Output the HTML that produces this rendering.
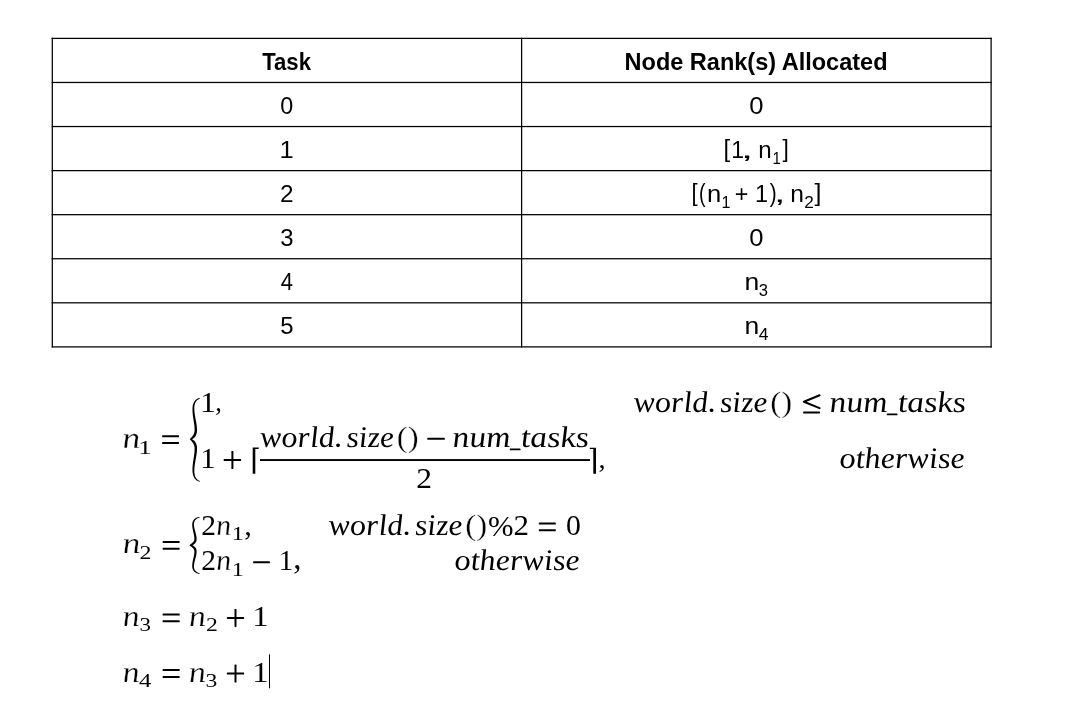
<!DOCTYPE html>
<html><head><meta charset="utf-8"><title>Task allocation</title><style>html,body{margin:0;padding:0;background:#fff;overflow:hidden;}svg{display:block;will-change:transform;}.S{font-family:'Liberation Sans',sans-serif;}.R{font-family:'Liberation Serif',serif;}text{fill:#000;}</style></head><body>
<svg width="1087" height="713" viewBox="0 0 1087 713">
<rect x="51.67" y="37.77" width="940.05" height="1.25" fill="#000"/>
<rect x="51.67" y="81.84" width="940.05" height="1.25" fill="#000"/>
<rect x="51.67" y="125.91" width="940.05" height="1.25" fill="#000"/>
<rect x="51.67" y="169.99" width="940.05" height="1.25" fill="#000"/>
<rect x="51.67" y="214.06" width="940.05" height="1.25" fill="#000"/>
<rect x="51.67" y="258.12" width="940.05" height="1.25" fill="#000"/>
<rect x="51.67" y="302.19" width="940.05" height="1.25" fill="#000"/>
<rect x="51.67" y="346.26" width="940.05" height="1.25" fill="#000"/>
<rect x="51.67" y="37.77" width="1.25" height="309.74" fill="#000"/>
<rect x="520.98" y="37.77" width="1.25" height="309.74" fill="#000"/>
<rect x="990.48" y="37.77" width="1.25" height="309.74" fill="#000"/>
<text class="S" transform="translate(262.17 70.00) scale(0.9042 1.0000)" font-size="24.5" font-weight="bold">Task</text>
<text class="S" transform="translate(624.56 70.00) scale(0.9598 1.0000)" font-size="24.5" font-weight="bold">Node Rank(s) Allocated</text>
<text class="S" transform="translate(280.35 113.60) scale(0.9532 1.0000)" font-size="24.5">0</text>
<text class="S" transform="translate(279.48 157.65) scale(1.0419 1.0000)" font-size="24.5">1</text>
<text class="S" transform="translate(280.06 201.70) scale(0.9956 1.0000)" font-size="24.5">2</text>
<text class="S" transform="translate(280.33 245.75) scale(0.9739 1.0000)" font-size="24.5">3</text>
<text class="S" transform="translate(280.85 289.80) scale(0.8960 1.0000)" font-size="24.5">4</text>
<text class="S" transform="translate(280.33 333.85) scale(0.9739 1.0000)" font-size="24.5">5</text>
<text class="S" transform="translate(749.15 113.60) scale(1.0468 1.0000)" font-size="24.5">0</text>
<text class="S" transform="translate(723.38 157.06) scale(0.9800 0.9670)" font-size="24.5">[</text>
<text class="S" transform="translate(731.36 157.80) scale(0.9395 1.0000)" font-size="24.5">1</text>
<text class="S" transform="translate(740.86 157.80) scale(1.8400 1.0000)" font-size="24.5">,</text>
<text class="S" transform="translate(758.28 157.80) scale(0.9854 1.0000)" font-size="24.5">n</text>
<text class="S" transform="translate(772.56 163.90) scale(0.9103 1.0000)" font-size="16.5">1</text>
<text class="S" transform="translate(782.57 157.05) scale(0.9263 0.9495)" font-size="24.5">]</text>
<text class="S" transform="translate(691.62 201.19) scale(0.9000 0.9626)" font-size="24.5">[</text>
<text class="S" transform="translate(699.00 201.54) scale(0.8000 1.0330)" font-size="24.5">(</text>
<text class="S" transform="translate(707.07 201.80) scale(1.0439 1.0000)" font-size="24.5">n</text>
<text class="S" transform="translate(721.58 207.90) scale(0.9793 1.0000)" font-size="16.5">1</text>
<text class="S" transform="translate(734.81 201.79) scale(0.9532 0.9469)" font-size="24.5">+</text>
<text class="S" transform="translate(755.12 201.80) scale(0.9581 1.0000)" font-size="24.5">1</text>
<text class="S" transform="translate(769.79 201.54) scale(0.8462 1.0330)" font-size="24.5">)</text>
<text class="S" transform="translate(774.02 201.80) scale(1.6800 1.0000)" font-size="24.5">,</text>
<text class="S" transform="translate(790.14 201.80) scale(1.0049 1.0000)" font-size="24.5">n</text>
<text class="S" transform="translate(804.32 207.90) scale(1.0400 1.0000)" font-size="16.5">2</text>
<text class="S" transform="translate(814.55 201.19) scale(1.0105 0.9626)" font-size="24.5">]</text>
<text class="S" transform="translate(749.15 245.75) scale(1.0468 1.0000)" font-size="24.5">0</text>
<text class="S" transform="translate(744.40 290.00) scale(1.0829 1.0000)" font-size="24.5">n</text>
<text class="S" transform="translate(758.75 295.80) scale(1.0065 1.0000)" font-size="16.5">3</text>
<text class="S" transform="translate(744.40 333.80) scale(1.0829 1.0000)" font-size="24.5">n</text>
<text class="S" transform="translate(758.64 339.90) scale(1.0588 1.0000)" font-size="16.5">4</text>
<text class="R" transform="translate(122.69 448.00) scale(1.2154 1.0000) skewX(4)" font-size="30" stroke="#fff" stroke-width="0.25"><tspan font-style="italic">n</tspan></text>
<text class="R" transform="translate(138.19 453.70) scale(1.3778 1.0000)" font-size="19.5">1</text>
<text class="R" transform="translate(199.95 411.60) scale(1.0605 1.0000)" font-size="30">1</text>
<text class="R" transform="translate(215.22 410.68) scale(0.8842 0.8933)" font-size="30">,</text>
<text class="R" transform="translate(200.24 468.10) scale(1.0233 1.0000)" font-size="30">1</text>
<text class="R" transform="translate(260.77 446.70) scale(1.0647 1.0000) skewX(4)" font-size="30"><tspan font-style="italic">world</tspan></text>
<text class="R" transform="translate(333.93 446.70) scale(1.0857 1.0000)" font-size="30">.</text>
<text class="R" transform="translate(347.04 446.70) scale(1.0566 1.0000) skewX(4)" font-size="30"><tspan font-style="italic">size</tspan></text>
<text class="R" transform="translate(396.73 446.95) scale(1.0971 1.0000)" font-size="30" stroke="#fff" stroke-width="0.3">()</text>
<text class="R" transform="translate(453.06 446.70) scale(1.1232 1.0000) skewX(4)" font-size="30"><tspan font-style="italic">num</tspan></text>
<text class="R" transform="translate(521.43 446.70) scale(1.1325 1.0000) skewX(4)" font-size="30"><tspan font-style="italic">tasks</tspan></text>
<text class="R" transform="translate(416.29 487.50) scale(1.0500 1.0000)" font-size="30">2</text>
<text class="R" transform="translate(598.45 467.56) scale(0.9474 0.9200)" font-size="30">,</text>
<text class="R" transform="translate(634.27 411.70) scale(1.0647 1.0000) skewX(4)" font-size="30"><tspan font-style="italic">world</tspan></text>
<text class="R" transform="translate(707.43 411.70) scale(1.0857 1.0000)" font-size="30">.</text>
<text class="R" transform="translate(720.54 411.70) scale(1.0566 1.0000) skewX(4)" font-size="30"><tspan font-style="italic">size</tspan></text>
<text class="R" transform="translate(770.23 411.95) scale(1.0971 1.0000)" font-size="30" stroke="#fff" stroke-width="0.3">()</text>
<text class="R" transform="translate(830.06 411.70) scale(1.1232 1.0000) skewX(4)" font-size="30"><tspan font-style="italic">num</tspan></text>
<text class="R" transform="translate(898.43 411.70) scale(1.1325 1.0000) skewX(4)" font-size="30"><tspan font-style="italic">tasks</tspan></text>
<text class="R" transform="translate(840.06 468.00) scale(1.0742 1.0000) skewX(4)" font-size="30"><tspan font-style="italic">otherwise</tspan></text>
<text class="R" transform="translate(122.89 553.20) scale(1.2077 1.0000) skewX(4)" font-size="30" stroke="#fff" stroke-width="0.25"><tspan font-style="italic">n</tspan></text>
<text class="R" transform="translate(139.58 558.80) scale(1.2250 1.0000)" font-size="19.5">2</text>
<text class="R" transform="translate(201.17 534.80) scale(0.9833 1.0000)" font-size="30">2</text>
<text class="R" transform="translate(216.43 534.80) scale(1.0231 1.0000) skewX(4)" font-size="30" stroke="#fff" stroke-width="0.25"><tspan font-style="italic">n</tspan></text>
<text class="R" transform="translate(231.72 540.40) scale(1.2444 1.0000)" font-size="19.5">1</text>
<text class="R" transform="translate(201.17 570.00) scale(0.9833 1.0000)" font-size="30">2</text>
<text class="R" transform="translate(216.43 570.00) scale(1.0231 1.0000) skewX(4)" font-size="30" stroke="#fff" stroke-width="0.25"><tspan font-style="italic">n</tspan></text>
<text class="R" transform="translate(231.72 575.60) scale(1.2444 1.0000)" font-size="19.5">1</text>
<text class="R" transform="translate(244.19 534.54) scale(1.0105 0.9467)" font-size="30">,</text>
<text class="R" transform="translate(278.80 570.00) scale(0.9581 1.0000)" font-size="30">1</text>
<text class="R" transform="translate(293.21 568.78) scale(1.0947 1.0933)" font-size="30">,</text>
<text class="R" transform="translate(329.27 534.80) scale(1.0647 1.0000) skewX(4)" font-size="30"><tspan font-style="italic">world</tspan></text>
<text class="R" transform="translate(402.43 534.80) scale(1.0857 1.0000)" font-size="30">.</text>
<text class="R" transform="translate(415.54 534.80) scale(1.0566 1.0000) skewX(4)" font-size="30"><tspan font-style="italic">size</tspan></text>
<text class="R" transform="translate(465.23 535.05) scale(1.0971 1.0000)" font-size="30" stroke="#fff" stroke-width="0.3">()</text>
<text class="R" transform="translate(488.08 535.71) scale(1.0217 0.9854)" font-size="30">%</text>
<text class="R" transform="translate(513.61 534.80) scale(1.0333 1.0000)" font-size="30">2</text>
<text class="R" transform="translate(565.91 534.80) scale(0.9923 1.0000)" font-size="30">0</text>
<text class="R" transform="translate(455.06 570.00) scale(1.0742 1.0000) skewX(4)" font-size="30"><tspan font-style="italic">otherwise</tspan></text>
<text class="R" transform="translate(122.93 626.00) scale(1.1538 1.0000) skewX(4)" font-size="30" stroke="#fff" stroke-width="0.25"><tspan font-style="italic">n</tspan></text>
<text class="R" transform="translate(139.62 631.30) scale(1.1750 1.0000)" font-size="19.5">3</text>
<text class="R" transform="translate(189.33 626.00) scale(1.1538 1.0000) skewX(4)" font-size="30" stroke="#fff" stroke-width="0.25"><tspan font-style="italic">n</tspan></text>
<text class="R" transform="translate(205.89 631.40) scale(1.2125 1.0000)" font-size="19.5">2</text>
<text class="R" transform="translate(252.18 626.00) scale(1.0884 1.0000)" font-size="30">1</text>
<text class="R" transform="translate(122.93 681.60) scale(1.1538 1.0000) skewX(4)" font-size="30" stroke="#fff" stroke-width="0.25"><tspan font-style="italic">n</tspan></text>
<text class="R" transform="translate(138.98 686.90) scale(1.2649 1.0000)" font-size="19.5">4</text>
<text class="R" transform="translate(189.33 681.60) scale(1.1538 1.0000) skewX(4)" font-size="30" stroke="#fff" stroke-width="0.25"><tspan font-style="italic">n</tspan></text>
<text class="R" transform="translate(205.59 687.00) scale(1.2125 1.0000)" font-size="19.5">3</text>
<text class="R" transform="translate(252.18 681.60) scale(1.0884 1.0000)" font-size="30">1</text>
<path d="M199.69 397.87 L199.19 397.99 L198.71 398.14 L198.23 398.32 L197.77 398.53 L197.32 398.76 L196.88 399.01 L196.46 399.29 L196.05 399.60 L195.66 399.94 L195.28 400.31 L194.93 400.71 L194.60 401.15 L194.28 401.61 L193.99 402.10 L193.72 402.63 L193.48 403.19 L193.26 403.78 L193.07 404.40 L192.90 405.06 L192.76 405.75 L192.65 406.47 L192.56 407.23 L192.50 408.03 L192.47 408.86 L192.47 409.85 L192.49 410.82 L192.53 411.78 L192.59 412.72 L192.67 413.65 L192.76 414.57 L192.87 415.47 L192.98 416.37 L193.11 417.25 L193.24 418.13 L193.38 419.00 L193.51 419.86 L193.65 420.72 L193.79 421.58 L193.92 422.43 L194.05 423.28 L194.16 424.13 L194.27 424.98 L194.37 425.83 L194.45 426.69 L194.51 427.55 L194.56 428.42 L194.59 429.29 L194.59 430.18 L194.57 430.73 L194.53 431.24 L194.47 431.74 L194.38 432.20 L194.28 432.65 L194.16 433.07 L194.02 433.47 L193.86 433.85 L193.69 434.22 L193.51 434.56 L193.32 434.90 L193.11 435.21 L192.89 435.52 L192.69 435.83 L192.48 436.14 L192.26 436.44 L192.03 436.74 L191.78 437.02 L191.53 437.30 L191.27 437.57 L191.01 437.83 L190.74 438.09 L190.46 438.33 L189.85 439.20 L190.46 440.07 L190.73 440.32 L191.00 440.58 L191.26 440.85 L191.52 441.12 L191.77 441.41 L192.01 441.70 L192.25 442.00 L192.47 442.31 L192.67 442.63 L192.88 442.96 L193.10 443.27 L193.31 443.60 L193.50 443.94 L193.69 444.30 L193.86 444.68 L194.01 445.07 L194.15 445.49 L194.28 445.93 L194.38 446.39 L194.47 446.87 L194.53 447.38 L194.57 447.92 L194.59 448.49 L194.59 449.40 L194.56 450.30 L194.51 451.19 L194.45 452.08 L194.37 452.97 L194.27 453.84 L194.16 454.72 L194.05 455.60 L193.92 456.47 L193.79 457.35 L193.65 458.23 L193.51 459.11 L193.38 460.00 L193.24 460.90 L193.11 461.80 L192.98 462.71 L192.87 463.63 L192.76 464.56 L192.67 465.50 L192.59 466.46 L192.53 467.43 L192.49 468.41 L192.47 469.41 L192.47 470.43 L192.50 471.28 L192.56 472.10 L192.65 472.88 L192.76 473.62 L192.90 474.33 L193.07 475.01 L193.26 475.65 L193.48 476.25 L193.72 476.83 L193.99 477.37 L194.28 477.87 L194.59 478.35 L194.92 478.79 L195.28 479.20 L195.65 479.59 L196.04 479.94 L196.45 480.26 L196.87 480.55 L197.31 480.81 L197.76 481.05 L198.23 481.26 L198.70 481.44 L199.19 481.60 L199.68 481.73 L199.92 481.07 L199.47 480.86 L199.05 480.65 L198.64 480.42 L198.25 480.18 L197.88 479.93 L197.52 479.65 L197.18 479.36 L196.86 479.05 L196.56 478.72 L196.27 478.37 L196.01 477.99 L195.76 477.59 L195.53 477.17 L195.32 476.72 L195.13 476.24 L194.95 475.73 L194.80 475.19 L194.66 474.62 L194.55 474.01 L194.46 473.37 L194.39 472.69 L194.35 471.98 L194.33 471.22 L194.33 470.43 L194.36 469.46 L194.41 468.50 L194.48 467.56 L194.57 466.63 L194.67 465.72 L194.79 464.81 L194.92 463.91 L195.06 463.02 L195.21 462.13 L195.37 461.24 L195.52 460.36 L195.69 459.48 L195.85 458.60 L196.01 457.72 L196.16 456.83 L196.31 455.94 L196.45 455.04 L196.58 454.13 L196.70 453.22 L196.80 452.30 L196.88 451.36 L196.95 450.42 L196.99 449.46 L197.01 448.48 L197.00 447.81 L196.96 447.16 L196.89 446.53 L196.80 445.92 L196.67 445.34 L196.52 444.78 L196.35 444.24 L196.16 443.73 L195.94 443.23 L195.70 442.76 L195.45 442.31 L195.18 441.88 L194.89 441.47 L194.56 441.11 L194.22 440.78 L193.87 440.46 L193.52 440.17 L193.16 439.89 L192.80 439.64 L192.44 439.40 L192.08 439.17 L191.73 438.96 L191.37 438.76 L191.35 439.20 L191.36 439.65 L191.72 439.46 L192.07 439.26 L192.43 439.04 L192.79 438.81 L193.15 438.56 L193.51 438.29 L193.86 438.01 L194.21 437.70 L194.55 437.38 L194.88 437.02 L195.17 436.63 L195.44 436.21 L195.70 435.77 L195.93 435.31 L196.15 434.83 L196.35 434.32 L196.52 433.80 L196.67 433.25 L196.80 432.68 L196.89 432.09 L196.96 431.47 L197.00 430.84 L197.01 430.18 L196.99 429.23 L196.95 428.30 L196.88 427.38 L196.80 426.47 L196.70 425.57 L196.58 424.68 L196.45 423.80 L196.31 422.93 L196.16 422.06 L196.01 421.20 L195.85 420.34 L195.69 419.48 L195.52 418.63 L195.37 417.77 L195.21 416.91 L195.06 416.05 L194.92 415.19 L194.79 414.31 L194.67 413.43 L194.57 412.54 L194.48 411.64 L194.41 410.73 L194.36 409.80 L194.33 408.86 L194.33 408.09 L194.35 407.36 L194.39 406.67 L194.46 406.01 L194.55 405.39 L194.66 404.80 L194.80 404.24 L194.95 403.72 L195.12 403.23 L195.31 402.76 L195.53 402.33 L195.75 401.92 L196.00 401.53 L196.27 401.17 L196.55 400.82 L196.85 400.50 L197.17 400.20 L197.51 399.91 L197.87 399.65 L198.24 399.40 L198.64 399.16 L199.04 398.94 L199.47 398.74 L199.91 398.53Z" fill="#000"/>
<path d="M199.52 516.86 L199.03 516.93 L198.56 517.03 L198.09 517.14 L197.63 517.27 L197.19 517.42 L196.76 517.58 L196.34 517.77 L195.93 517.97 L195.54 518.20 L195.16 518.45 L194.80 518.72 L194.46 519.01 L194.14 519.33 L193.83 519.67 L193.55 520.04 L193.30 520.44 L193.07 520.85 L192.86 521.30 L192.68 521.77 L192.54 522.26 L192.42 522.78 L192.32 523.32 L192.26 523.89 L192.23 524.48 L192.23 525.17 L192.25 525.85 L192.30 526.52 L192.36 527.18 L192.44 527.82 L192.54 528.46 L192.65 529.09 L192.77 529.71 L192.90 530.32 L193.04 530.93 L193.17 531.52 L193.31 532.12 L193.45 532.70 L193.59 533.29 L193.72 533.86 L193.85 534.44 L193.96 535.01 L194.07 535.59 L194.16 536.16 L194.24 536.73 L194.31 537.30 L194.35 537.88 L194.38 538.46 L194.39 539.04 L194.37 539.38 L194.33 539.69 L194.28 539.99 L194.20 540.27 L194.11 540.54 L194.00 540.79 L193.88 541.04 L193.74 541.28 L193.58 541.50 L193.41 541.72 L193.23 541.94 L193.03 542.14 L192.81 542.35 L192.61 542.56 L192.39 542.78 L192.16 543.00 L191.92 543.20 L191.66 543.41 L191.40 543.60 L191.13 543.80 L190.85 543.98 L190.57 544.17 L190.28 544.34 L189.55 545.20 L190.28 546.06 L190.56 546.24 L190.85 546.42 L191.12 546.61 L191.39 546.80 L191.66 547.00 L191.91 547.21 L192.15 547.42 L192.38 547.64 L192.60 547.86 L192.81 548.08 L193.02 548.28 L193.22 548.49 L193.41 548.71 L193.58 548.93 L193.73 549.17 L193.87 549.41 L194.00 549.66 L194.11 549.92 L194.20 550.19 L194.27 550.48 L194.33 550.78 L194.37 551.11 L194.39 551.45 L194.38 552.04 L194.35 552.63 L194.31 553.21 L194.24 553.80 L194.16 554.38 L194.07 554.96 L193.96 555.54 L193.85 556.12 L193.72 556.70 L193.59 557.29 L193.45 557.88 L193.31 558.48 L193.17 559.08 L193.03 559.68 L192.90 560.30 L192.77 560.92 L192.65 561.55 L192.54 562.18 L192.44 562.83 L192.36 563.48 L192.30 564.15 L192.25 564.83 L192.23 565.52 L192.23 566.22 L192.26 566.81 L192.32 567.39 L192.42 567.94 L192.53 568.46 L192.68 568.96 L192.86 569.44 L193.06 569.89 L193.30 570.31 L193.55 570.71 L193.83 571.08 L194.13 571.43 L194.46 571.75 L194.80 572.05 L195.16 572.33 L195.53 572.58 L195.93 572.81 L196.33 573.01 L196.75 573.20 L197.19 573.37 L197.63 573.52 L198.09 573.65 L198.55 573.77 L199.03 573.87 L199.52 573.94 L199.68 573.26 L199.23 573.11 L198.79 572.96 L198.37 572.79 L197.97 572.62 L197.58 572.44 L197.21 572.25 L196.86 572.04 L196.53 571.83 L196.21 571.60 L195.92 571.36 L195.65 571.10 L195.39 570.83 L195.16 570.55 L194.95 570.25 L194.76 569.94 L194.59 569.61 L194.43 569.26 L194.30 568.90 L194.19 568.51 L194.10 568.10 L194.03 567.67 L193.99 567.21 L193.96 566.73 L193.97 566.21 L193.99 565.58 L194.04 564.95 L194.11 564.33 L194.19 563.72 L194.29 563.12 L194.41 562.52 L194.54 561.93 L194.67 561.33 L194.82 560.74 L194.97 560.15 L195.13 559.56 L195.29 558.97 L195.45 558.38 L195.61 557.79 L195.76 557.18 L195.91 556.58 L196.05 555.97 L196.18 555.35 L196.30 554.72 L196.40 554.09 L196.49 553.44 L196.55 552.79 L196.59 552.12 L196.61 551.45 L196.60 550.96 L196.56 550.48 L196.48 550.02 L196.38 549.57 L196.24 549.14 L196.08 548.73 L195.89 548.34 L195.68 547.97 L195.45 547.61 L195.20 547.28 L194.93 546.96 L194.65 546.66 L194.36 546.38 L194.04 546.14 L193.70 545.92 L193.37 545.71 L193.02 545.53 L192.68 545.35 L192.33 545.19 L191.98 545.03 L191.64 544.89 L191.29 544.76 L190.95 544.63 L191.05 545.20 L190.95 545.77 L191.29 545.65 L191.63 545.52 L191.98 545.38 L192.33 545.23 L192.67 545.07 L193.02 544.89 L193.36 544.71 L193.70 544.51 L194.03 544.29 L194.35 544.05 L194.65 543.78 L194.93 543.48 L195.20 543.17 L195.45 542.84 L195.68 542.49 L195.89 542.12 L196.08 541.73 L196.24 541.32 L196.38 540.90 L196.48 540.46 L196.56 540.00 L196.60 539.53 L196.61 539.04 L196.59 538.37 L196.55 537.72 L196.49 537.07 L196.40 536.43 L196.30 535.81 L196.18 535.19 L196.05 534.58 L195.91 533.97 L195.76 533.38 L195.60 532.79 L195.45 532.20 L195.29 531.61 L195.13 531.03 L194.97 530.45 L194.82 529.87 L194.67 529.29 L194.54 528.71 L194.41 528.12 L194.29 527.53 L194.19 526.93 L194.11 526.33 L194.04 525.72 L193.99 525.11 L193.97 524.48 L193.96 523.98 L193.99 523.50 L194.03 523.05 L194.10 522.63 L194.19 522.22 L194.30 521.84 L194.43 521.48 L194.58 521.14 L194.76 520.82 L194.95 520.51 L195.16 520.22 L195.39 519.94 L195.64 519.67 L195.92 519.42 L196.21 519.18 L196.52 518.96 L196.86 518.74 L197.21 518.54 L197.58 518.35 L197.97 518.17 L198.37 518.00 L198.79 517.84 L199.23 517.69 L199.68 517.54Z" fill="#000"/>
<path d="M252.7 473.8 V447.6 H258.7 V448.9 H255.3 V473.8 Z" fill="#000"/>
<path d="M596.0 473.8 V447.8 H589.8 V449.0 H593.3 V473.8 Z" fill="#000"/>
<rect x="162.10" y="435.30" width="16.90" height="2.00" rx="0.6" fill="#000"/>
<rect x="162.10" y="442.10" width="16.90" height="2.00" rx="0.6" fill="#000"/>
<rect x="223.70" y="459.00" width="17.40" height="2.00" rx="0.6" fill="#000"/>
<rect x="231.40" y="451.00" width="2.00" height="18.00" rx="0.6" fill="#000"/>
<rect x="427.30" y="437.80" width="17.50" height="2.00" rx="0.6" fill="#000"/>
<rect x="509.80" y="448.50" width="10.70" height="1.80" rx="0.6" fill="#000"/>
<rect x="803.10" y="411.60" width="16.90" height="2.00" rx="0.6" fill="#000"/>
<rect x="886.80" y="413.50" width="10.70" height="1.80" rx="0.6" fill="#000"/>
<rect x="162.60" y="540.90" width="17.10" height="2.00" rx="0.6" fill="#000"/>
<rect x="162.60" y="547.70" width="17.10" height="2.00" rx="0.6" fill="#000"/>
<rect x="253.10" y="561.30" width="16.80" height="2.00" rx="0.6" fill="#000"/>
<rect x="538.80" y="522.50" width="17.00" height="2.00" rx="0.6" fill="#000"/>
<rect x="538.80" y="529.20" width="17.00" height="2.00" rx="0.6" fill="#000"/>
<rect x="162.60" y="613.50" width="17.10" height="2.00" rx="0.6" fill="#000"/>
<rect x="162.60" y="620.30" width="17.10" height="2.00" rx="0.6" fill="#000"/>
<rect x="226.85" y="616.90" width="17.30" height="2.00" rx="0.6" fill="#000"/>
<rect x="234.50" y="608.90" width="2.00" height="18.00" rx="0.6" fill="#000"/>
<rect x="162.60" y="669.10" width="17.10" height="2.00" rx="0.6" fill="#000"/>
<rect x="162.60" y="675.90" width="17.10" height="2.00" rx="0.6" fill="#000"/>
<rect x="226.85" y="672.50" width="17.30" height="2.00" rx="0.6" fill="#000"/>
<rect x="234.50" y="664.50" width="2.00" height="18.00" rx="0.6" fill="#000"/>
<path d="M819.6 395.3 L803.9 401.7 L819.6 408.1" fill="none" stroke="#000" stroke-width="2" stroke-linecap="round" stroke-linejoin="round"/>
<rect x="260.00" y="459.10" width="330.00" height="1.90" fill="#000"/>
<rect x="269" y="654.4" width="1" height="33.9" fill="#000"/>
</svg>
</body></html>
